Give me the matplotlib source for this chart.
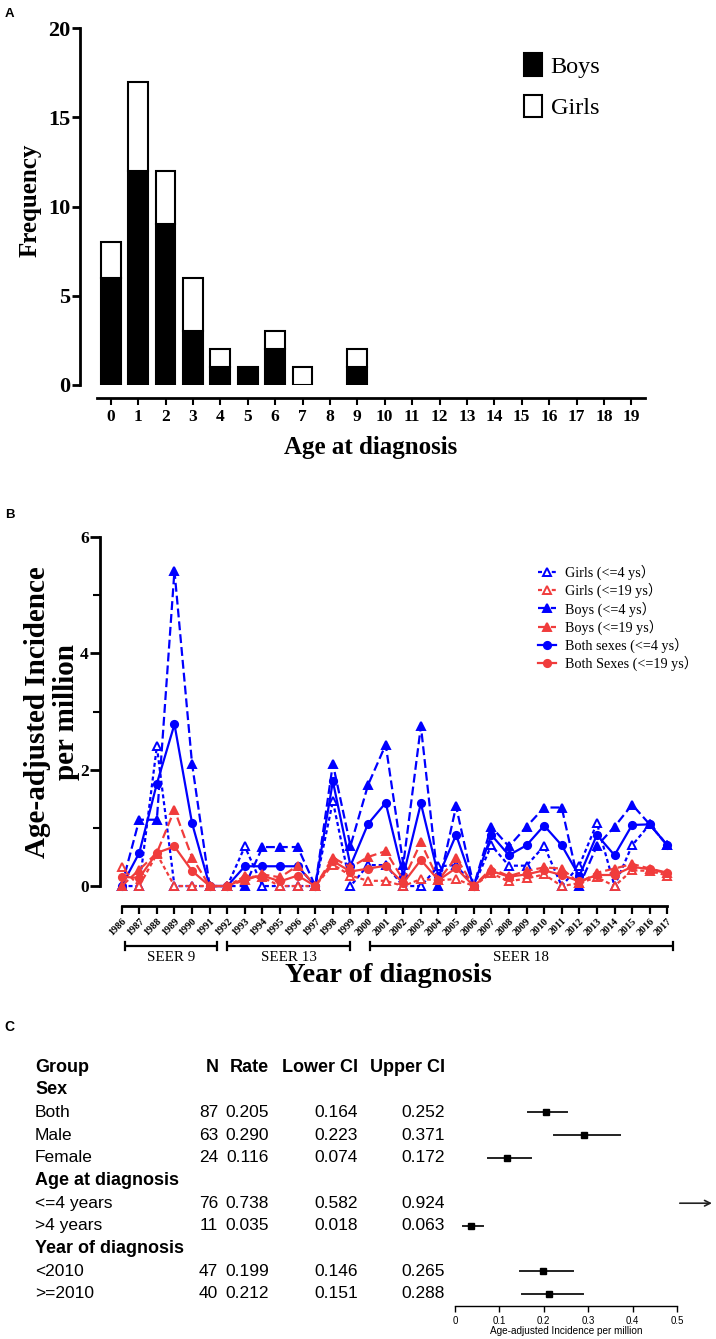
import numpy as np
import matplotlib

matplotlib.use("Agg")
import matplotlib.pyplot as plt
from matplotlib.patches import Patch
from matplotlib.transforms import blended_transform_factory

# ---- panel A: age distribution --------------------------------------------
ages = np.arange(20)
boys_count = np.array([6, 12, 9, 3, 1, 1, 2, 0, 0, 1, 0, 0, 0, 0, 0, 0, 0, 0, 0, 0])
girls_count = np.array([2, 5, 3, 3, 1, 0, 1, 1, 0, 1, 0, 0, 0, 0, 0, 0, 0, 0, 0, 0])

# ---- panel B: yearly age-adjusted incidence ----------------------------------
years = np.arange(1986, 2018)
girls_4 = [0, 0, 2.40, 0, 0, 0, 0, 0.68, 0, 0, 0, 0, 1.46, 0, 0.36, 0.36,
           0, 0, 0.34, 0.36, 0, 0.70, 0.35, 0.35, 0.69, 0, 0.35, 1.08, 0, 0.70, 1.06, 0.70]
girls_19 = [0.32, 0, 0.55, 0, 0, 0, 0, 0.17, 0.15, 0, 0, 0, 0.37, 0.18, 0.09, 0.09,
            0, 0.12, 0.10, 0.12, 0, 0.22, 0.08, 0.13, 0.20, 0, 0.05, 0.15, 0, 0.27, 0.26, 0.18]
boys_4 = [0, 1.14, 1.14, 5.42, 2.10, 0, 0, 0, 0.67, 0.67, 0.67, 0, 2.10, 0.69, 1.74, 2.43,
          0.37, 2.75, 0, 1.37, 0, 1.02, 0.68, 1.02, 1.35, 1.35, 0, 0.69, 1.02, 1.40, 1.06, 0.70]
boys_19 = [0, 0.28, 0.57, 1.31, 0.49, 0, 0, 0.10, 0.20, 0.15, 0.35, 0, 0.49, 0.32, 0.50, 0.60,
           0.10, 0.75, 0.10, 0.49, 0, 0.30, 0.17, 0.26, 0.32, 0.30, 0.05, 0.23, 0.30, 0.38, 0.30, 0.23]
both_4 = [0, 0.57, 1.76, 2.78, 1.08, 0, 0, 0.34, 0.34, 0.34, 0.34, 0, 1.80, 0.35, 1.07, 1.43,
          0.18, 1.42, 0.17, 0.88, 0, 0.88, 0.53, 0.70, 1.04, 0.70, 0.17, 0.88, 0.53, 1.05, 1.06, 0.70]
both_19 = [0.16, 0.14, 0.57, 0.68, 0.26, 0, 0, 0.13, 0.18, 0.08, 0.18, 0, 0.43, 0.25, 0.30, 0.35,
           0.05, 0.45, 0.10, 0.31, 0, 0.26, 0.16, 0.20, 0.27, 0.19, 0.08, 0.19, 0.19, 0.33, 0.29, 0.22]

seer_names = ["SEER 9", "SEER 13", "SEER 18"]
seer_start = [1986.2, 1992.0, 2000.1]
seer_end = [1991.4, 1999.0, 2017.3]

# ---- panel C: forest plot table ------------------------------------------------
table_rows = ["Sex", "Both", "Male", "Female", "Age at diagnosis", "<=4 years",
              ">4 years", "Year of diagnosis", "<2010", ">=2010"]
row_is_header = [True, False, False, False, True, False, False, True, False, False]
n_cases = [None, 87, 63, 24, None, 76, 11, None, 47, 40]
rate = [None, 0.205, 0.290, 0.116, None, 0.738, 0.035, None, 0.199, 0.212]
lower_ci = [None, 0.164, 0.223, 0.074, None, 0.582, 0.018, None, 0.146, 0.151]
upper_ci = [None, 0.252, 0.371, 0.172, None, 0.924, 0.063, None, 0.265, 0.288]

W, H = 716, 1339
PT = 0.72  # points per pixel at dpi 100
BLUE = "#0000ff"
RED = "#f03c3c"

plt.rcParams["font.family"] = ["Liberation Serif", "Noto Sans CJK SC"]


def rect(l, t, r, b):
    return [l / W, 1 - b / H, (r - l) / W, (b - t) / H]


def fx(x):
    return x / W


def fy(y):
    return 1 - y / H


fig = plt.figure(figsize=(W / 100, H / 100), dpi=100)

# ======================= A =======================
axA = fig.add_axes(rect(97, 28, 645, 385))
mb = boys_count > 0
mg = girls_count > 0
axA.bar(ages[mb], boys_count[mb], width=0.72, color="black", edgecolor="black", lw=1.5)
axA.bar(ages[mg], girls_count[mg], bottom=boys_count[mg], width=0.72,
        color="white", edgecolor="black", lw=1.5)
axA.set_xlim(-0.5, 19.5)
axA.set_ylim(0, 20)
for s in ["top", "right"]:
    axA.spines[s].set_visible(False)
axA.spines["left"].set_position(("outward", 17 * PT))
axA.spines["bottom"].set_position(("outward", 13 * PT))
axA.spines["left"].set_linewidth(2)
axA.spines["bottom"].set_linewidth(2)
axA.set_yticks([0, 5, 10, 15, 20])
axA.set_xticks(ages)
axA.tick_params(axis="y", length=6, width=2, labelsize=16, pad=1)
axA.tick_params(axis="x", length=5, width=1.5, labelsize=12.5, pad=3)
for lab in axA.get_xticklabels() + axA.get_yticklabels():
    lab.set_fontweight("bold")
fig.text(fx(30), fy(200), "Frequency", rotation=90, ha="center", va="center",
         fontsize=18, fontweight="bold")
fig.text(fx(371), fy(448), "Age at diagnosis", ha="center", va="center",
         fontsize=18, fontweight="bold")
handles_a = [Patch(facecolor="black", edgecolor="black", lw=1.5),
             Patch(facecolor="white", edgecolor="black", lw=1.5)]
axA.legend(handles_a, ["Boys", "Girls"], loc="upper left",
           bbox_to_anchor=(fx(524), fy(53)), bbox_transform=fig.transFigure,
           frameon=False, fontsize=17.5, handlelength=0.75, handleheight=1.05,
           handletextpad=0.35, labelspacing=0.7, borderpad=0, borderaxespad=0)
fig.text(fx(5), fy(14), "A", fontsize=9.5, fontweight="bold",
         family="Liberation Sans", va="center")

# ======================= B =======================
axB = fig.add_axes(rect(100, 537, 680, 906))
dots = (0, (1.8, 1.3))
dashes = (0, (4.0, 1.8))
series = [
    ("g4", girls_4, BLUE, "^", "white", dots, "Girls (<=4 ys）"),
    ("b4", boys_4, BLUE, "^", BLUE, dashes, "Boys (<=4 ys）"),
    ("a4", both_4, BLUE, "o", BLUE, "-", "Both sexes (<=4 ys）"),
    ("g19", girls_19, RED, "^", "white", dots, "Girls (<=19 ys）"),
    ("b19", boys_19, RED, "^", RED, dashes, "Boys (<=19 ys）"),
    ("a19", both_19, RED, "o", RED, "-", "Both Sexes (<=19 ys）"),
]
lines = {}
for key, vals, col, mk, mfc, ls, lab in series:
    ms = 5.2 if mk == "o" else 6
    (ln,) = axB.plot(years, vals, color=col, ls=ls, lw=1.6, marker=mk, ms=ms,
                     mfc=mfc, mec=col, mew=1.4, clip_on=False, label=lab)
    lines[key] = ln
order = ["g4", "g19", "b4", "b19", "a4", "a19"]
axB.legend([lines[k] for k in order], [lines[k].get_label() for k in order],
           loc="upper left", bbox_to_anchor=(fx(538), fy(565)),
           bbox_transform=fig.transFigure, frameon=False, fontsize=10.2,
           handlelength=1.3, handletextpad=0.6, labelspacing=0.2,
           borderpad=0, borderaxespad=0)

axB.set_xlim(1984.77, 2017.72)
axB.set_ylim(-0.343, 6)
for s in ["top", "right"]:
    axB.spines[s].set_visible(False)
axB.spines["left"].set_bounds(0, 6)
axB.spines["bottom"].set_bounds(1986, 2017)
axB.spines["left"].set_linewidth(2)
axB.spines["bottom"].set_linewidth(2)
axB.set_yticks([0, 2, 4, 6])
axB.set_yticks([1, 3, 5], minor=True)
axB.tick_params(axis="y", which="major", length=7, width=2, labelsize=12.5, pad=1)
axB.tick_params(axis="y", which="minor", length=5, width=1.5)
axB.set_xticks(years)
axB.tick_params(axis="x", length=6, width=1.6, pad=1.5)
axB.set_xticklabels([str(y) for y in years], rotation=45, ha="right", va="top",
                    rotation_mode="anchor", fontsize=7.3, fontweight="bold")
for lab in axB.get_yticklabels():
    lab.set_fontweight("bold")

# SEER registry brackets under the year axis
yb = -1.03
for name, x0, x1 in zip(seer_names, seer_start, seer_end):
    axB.plot([x0, x1], [yb, yb], color="black", lw=1.6, clip_on=False,
             solid_capstyle="butt")
    for xe in (x0, x1):
        axB.plot([xe, xe], [yb - 0.07, yb + 0.07], color="black", lw=1.6,
                 clip_on=False)
    axB.text((x0 + x1) / 2, yb - 0.2, name, ha="center", va="center",
             fontsize=10.8)

fig.text(fx(52), fy(712), "Age-adjusted Incidence\nper million", rotation=90,
         ha="center", va="center", fontsize=21, fontweight="bold",
         multialignment="center", linespacing=1.12)
fig.text(fx(388), fy(975), "Year of diagnosis", ha="center", va="center",
         fontsize=20.5, fontweight="bold")
fig.text(fx(5), fy(515), "B", fontsize=9.5, fontweight="bold",
         family="Liberation Sans", va="center")

# ======================= C =======================
sans = "Liberation Sans"
axC = fig.add_axes(rect(455, 1060, 677, 1306))
axC.set_xlim(0, 0.5)
axC.set_ylim(10.53, -0.31)
for s in ["top", "right", "left"]:
    axC.spines[s].set_visible(False)
axC.spines["bottom"].set_linewidth(1)
axC.set_yticks([])
axC.set_xticks([0, 0.1, 0.2, 0.3, 0.4, 0.5])
axC.set_xticklabels(["0", "0.1", "0.2", "0.3", "0.4", "0.5"], family=sans)
axC.tick_params(axis="x", length=4, width=1, labelsize=7, pad=3)
axC.set_xlabel("Age-adjusted Incidence per million", fontsize=7.2,
               family=sans, labelpad=0.5)

tr = blended_transform_factory(fig.transFigure, axC.transData)
headers = [("Group", 35, "left"), ("N", 219, "right"), ("Rate", 269, "right"),
           ("Lower CI", 358, "right"), ("Upper CI", 445, "right")]
for txt, xp, ha in headers:
    axC.text(fx(xp), 0, txt, transform=tr, ha=ha, va="center", fontsize=13,
             fontweight="bold", family=sans)

xmax = axC.get_xlim()[1]
for i, name in enumerate(table_rows):
    row = i + 1
    axC.text(fx(35), row, name, transform=tr, ha="left", va="center",
             fontsize=13 if row_is_header[i] else 12.5,
             fontweight="bold" if row_is_header[i] else "normal", family=sans)
    if n_cases[i] is None:
        continue
    cells = [(str(n_cases[i]), 218), (f"{rate[i]:.3f}", 269),
             (f"{lower_ci[i]:.3f}", 358), (f"{upper_ci[i]:.3f}", 445)]
    for txt, xp in cells:
        axC.text(fx(xp), row, txt, transform=tr, ha="right", va="center",
                 fontsize=12.5, family=sans)
    if lower_ci[i] > xmax:
        axC.annotate("", xy=(xmax * 1.17, row), xytext=(xmax, row),
                     arrowprops=dict(arrowstyle="->", color="#222222", lw=1.2),
                     annotation_clip=False)
    else:
        axC.plot([lower_ci[i], upper_ci[i]], [row, row], color="#222222", lw=1.4,
                 clip_on=False)
        axC.plot(rate[i], row, marker="s", ms=4.5, color="black", clip_on=False)

fig.text(fx(4), fy(1027), "C", fontsize=10, fontweight="bold", family=sans,
         va="center")

fig.savefig("out.png", dpi=100)
